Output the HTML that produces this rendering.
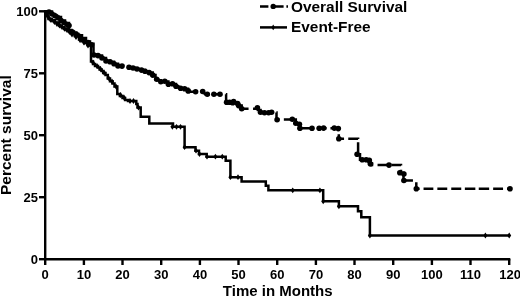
<!DOCTYPE html>
<html><head><meta charset="utf-8"><style>
html,body{margin:0;padding:0;background:#fff;width:520px;height:296px;overflow:hidden}
svg{display:block;filter:grayscale(1)}
text{font-family:"Liberation Sans",sans-serif}
</style></head><body>
<svg width="520" height="296" viewBox="0 0 520 296">
<rect width="520" height="296" fill="#fff"/>
<g stroke="#000" stroke-width="2.4" fill="none" stroke-linecap="butt">
<path d="M45.2,10.1 V259.3 H510.3"/>
<path d="M39,11.3 H45"/>
<path d="M39,73.3 H45"/>
<path d="M39,135.2 H45"/>
<path d="M39,197.2 H45"/>
<path d="M39,259.2 H45"/>
<path d="M45.2,259 V265"/>
<path d="M83.9,259 V265"/>
<path d="M122.5,259 V265"/>
<path d="M161.2,259 V265"/>
<path d="M199.9,259 V265"/>
<path d="M238.5,259 V265"/>
<path d="M277.2,259 V265"/>
<path d="M315.9,259 V265"/>
<path d="M354.5,259 V265"/>
<path d="M393.2,259 V265"/>
<path d="M431.9,259 V265"/>
<path d="M470.5,259 V265"/>
<path d="M509.2,259 V265"/>
</g>
<path d="M45.0,11.3 L46.8,11.3 L46.8,16.0 L48.5,16.0 L48.5,19.0 L51.6,19.0 L51.6,20.3 L55.0,20.3 L55.0,22.5 L59.3,22.5 L59.3,25.5 L61.6,25.5 L61.6,27.0 L64.0,27.0 L64.0,28.5 L66.5,28.5 L66.5,29.9 L68.9,29.9 L68.9,31.3 L71.8,31.3 L71.8,33.7 L74.7,33.7 L74.7,36.1 L79.0,36.1 L79.0,39.5 L81.7,39.5 L81.7,41.2 L84.3,41.2 L84.3,42.9 L87.7,42.9 L87.7,45.0 L91.0,45.0 L91.0,47.0 L91.0,61.5 L93.0,61.5 L93.0,64.0 L95.0,64.0 L95.0,66.0 L98.0,66.0 L98.0,67.5 L99.6,67.5 L99.6,69.5 L101.7,69.5 L101.7,71.0 L103.2,71.0 L103.2,73.0 L105.5,73.0 L105.5,75.0 L107.8,75.0 L107.8,78.5 L110.0,78.5 L110.0,81.2 L112.5,81.2 L112.5,83.5 L114.5,83.5 L114.5,86.5 L117.3,86.5 L117.3,94.0 L119.9,94.0 L119.9,96.0 L122.5,96.0 L122.5,98.0 L125.1,98.0 L125.1,100.0 L128.0,100.0 L128.0,101.0 L136.3,101.0 L136.3,104.0 L137.5,104.0 L137.5,107.5 L140.7,107.5 L140.7,116.8 L149.3,116.8 L149.3,123.5 L173.0,123.5 L173.0,126.8 L184.6,126.8 L184.6,147.2 L195.5,147.2 L195.5,150.7 L199.0,150.7 L199.0,154.1 L206.7,154.1 L206.7,156.7 L225.7,156.7 L225.7,160.8 L230.4,160.8 L230.4,177.2 L241.6,177.2 L241.6,181.5 L265.8,181.5 L265.8,185.8 L268.4,185.8 L268.4,190.3 L323.2,190.3 L323.2,201.3 L338.9,201.3 L338.9,206.3 L358.0,206.3 L358.0,211.3 L361.3,211.3 L361.3,217.3 L369.9,217.3 L369.9,235.5 L510.0,235.5" fill="none" stroke="#000" stroke-width="2.5" stroke-linejoin="miter"/>
<path d="M45.0,11.3 L49.0,11.6 L52.0,11.6 L52.0,14.0 L54.5,14.0 L54.5,15.5 L57.0,15.5 L57.0,17.0 L61.0,17.0 L61.0,20.5 L65.0,20.5 L65.0,23.0 L69.0,23.0 L69.0,25.5 L69.0,30.0 L71.5,30.0 L71.5,31.4 L74.0,31.4 L74.0,32.8 L76.2,32.8 L76.2,34.0 L78.5,34.0 L78.5,35.2 L82.0,35.2 L82.0,38.0 L86.0,38.0 L86.0,41.5 L90.0,41.5 L90.0,43.8 L93.5,43.8 L93.5,46.0 L93.5,54.5 L95.8,54.5 L95.8,55.0 L98.0,55.0 L98.0,55.5 L102.0,55.5 L102.0,58.0 L106.0,58.0 L106.0,61.0 L110.0,61.0 L110.0,61.7 L114.0,61.7 L114.0,63.7 L118.0,63.7 L118.0,66.0 L124.5,66.1 L128.5,66.1 L128.5,67.3 L131.6,67.3 L131.6,67.8 L134.6,67.8 L134.6,68.3 L138.1,68.3 L138.1,69.2 L141.5,69.2 L141.5,70.0 L145.2,70.0 L145.2,71.3 L149.0,71.3 L149.0,72.6 L152.7,72.6 L152.7,75.0 L155.5,75.0 L155.5,79.2 L158.2,79.2 L158.2,80.3 L160.8,80.3 L160.8,81.5 L164.8,81.5 L168.4,81.5 L168.4,84.0 L172.5,84.0 L176.0,84.0 L176.0,86.3 L178.3,86.3 L178.3,87.3 L180.6,87.3 L180.6,88.3 L184.6,88.8 L188.0,88.8 L188.0,91.7 L202.5,91.7 L205.0,94.2 L226.1,94.2 L226.1,102.3 L232.7,102.5 L236.0,102.5 L236.0,103.5 L238.6,103.5 L238.6,105.6 L241.7,105.6 L241.7,108.7 L255.0,108.7 L258.0,108.7 L258.0,110.0 L260.5,110.0 L260.5,112.4 L276.5,112.4 L276.5,119.5 L293.5,119.5 L295.8,119.5 L295.8,123.2 L299.0,123.2 L299.0,124.2 L299.9,124.2 L299.9,128.3 L338.8,128.3 L338.8,138.8 L358.1,138.8 L358.1,154.3 L360.0,154.3 L360.0,159.8 L369.0,159.8 L369.0,163.4 L372.0,163.4 L372.0,165.1 L401.0,165.1 L401.0,172.8 L403.5,172.8 L403.5,180.5 L416.3,180.5 L416.3,188.7 L510.0,188.7" fill="none" stroke="#000" stroke-width="2.5" stroke-dasharray="133.66 5.40 93.43 3.00 9.64 2.60 9.10 4.60 37.00 4.50 23.60 3.40 10.10 4.50 38.20 3.60 9.80 3.80 9.80 4.60 9.70 4.20 10.10 3.30 37.90 4.30 9.60 4.30 10.00 4.20 22.70 5.10 9.80 3.90 9.80 4.00 9.90 4.00 10.00 3.60 10.50 3.40 10.40 4.00 9.90 4.00 12.95 0.01" stroke-linejoin="miter"/>
<g fill="#000">
<circle cx="49.0" cy="12.0" r="2.8"/>
<circle cx="52.0" cy="14.0" r="2.8"/>
<circle cx="55.0" cy="15.8" r="2.8"/>
<circle cx="58.0" cy="17.7" r="2.8"/>
<circle cx="61.0" cy="20.5" r="2.8"/>
<circle cx="64.0" cy="22.5" r="2.8"/>
<circle cx="67.0" cy="24.5" r="2.8"/>
<circle cx="69.0" cy="25.5" r="2.8"/>
<circle cx="72.0" cy="31.8" r="2.8"/>
<circle cx="76.0" cy="34.0" r="2.8"/>
<circle cx="80.0" cy="36.5" r="2.8"/>
<circle cx="84.0" cy="40.0" r="2.8"/>
<circle cx="88.0" cy="42.5" r="2.8"/>
<circle cx="91.5" cy="44.8" r="2.8"/>
<circle cx="94.0" cy="55.0" r="2.8"/>
<circle cx="98.0" cy="55.6" r="2.8"/>
<circle cx="102.0" cy="58.0" r="2.8"/>
<circle cx="106.0" cy="61.0" r="2.8"/>
<circle cx="110.0" cy="61.7" r="2.8"/>
<circle cx="114.0" cy="63.7" r="2.8"/>
<circle cx="118.0" cy="66.0" r="2.8"/>
<circle cx="122.0" cy="66.1" r="2.8"/>
<circle cx="129.0" cy="67.3" r="2.8"/>
<circle cx="133.0" cy="68.0" r="2.8"/>
<circle cx="137.0" cy="69.0" r="2.8"/>
<circle cx="141.5" cy="70.1" r="2.8"/>
<circle cx="145.0" cy="71.3" r="2.8"/>
<circle cx="149.1" cy="72.6" r="2.8"/>
<circle cx="152.7" cy="75.1" r="2.8"/>
<circle cx="156.7" cy="79.2" r="2.8"/>
<circle cx="160.8" cy="81.7" r="2.8"/>
<circle cx="164.8" cy="81.2" r="2.8"/>
<circle cx="168.4" cy="84.3" r="2.8"/>
<circle cx="172.5" cy="83.8" r="2.8"/>
<circle cx="176.0" cy="86.3" r="2.8"/>
<circle cx="180.6" cy="88.3" r="2.8"/>
<circle cx="184.6" cy="88.8" r="2.8"/>
<circle cx="188.2" cy="90.9" r="2.8"/>
<circle cx="195.6" cy="91.7" r="2.8"/>
<circle cx="202.7" cy="91.5" r="2.8"/>
<circle cx="207.3" cy="94.2" r="2.8"/>
<circle cx="213.9" cy="94.2" r="2.8"/>
<circle cx="220.0" cy="94.2" r="2.8"/>
<circle cx="226.6" cy="102.3" r="2.8"/>
<circle cx="229.6" cy="102.3" r="2.8"/>
<circle cx="232.7" cy="102.8" r="2.8"/>
<circle cx="233.6" cy="101.6" r="2.8"/>
<circle cx="237.6" cy="103.6" r="2.8"/>
<circle cx="238.6" cy="105.6" r="2.8"/>
<circle cx="241.7" cy="108.7" r="2.8"/>
<circle cx="257.4" cy="107.7" r="2.8"/>
<circle cx="260.5" cy="112.2" r="2.8"/>
<circle cx="264.5" cy="112.7" r="2.8"/>
<circle cx="268.6" cy="112.7" r="2.8"/>
<circle cx="271.6" cy="112.2" r="2.8"/>
<circle cx="277.1" cy="119.7" r="2.8"/>
<circle cx="292.3" cy="119.2" r="2.8"/>
<circle cx="295.8" cy="123.2" r="2.8"/>
<circle cx="299.4" cy="124.2" r="2.8"/>
<circle cx="299.9" cy="128.3" r="2.8"/>
<circle cx="312.0" cy="128.3" r="2.8"/>
<circle cx="319.2" cy="128.3" r="2.8"/>
<circle cx="323.6" cy="128.1" r="2.8"/>
<circle cx="334.3" cy="128.1" r="2.8"/>
<circle cx="338.3" cy="128.6" r="2.8"/>
<circle cx="338.8" cy="138.8" r="2.8"/>
<circle cx="357.1" cy="154.3" r="2.8"/>
<circle cx="362.2" cy="159.8" r="2.8"/>
<circle cx="366.2" cy="159.8" r="2.8"/>
<circle cx="369.3" cy="160.4" r="2.8"/>
<circle cx="370.5" cy="164.0" r="2.8"/>
<circle cx="389.0" cy="165.1" r="2.8"/>
<circle cx="399.8" cy="172.8" r="2.8"/>
<circle cx="403.9" cy="174.0" r="2.8"/>
<circle cx="403.9" cy="180.5" r="2.8"/>
<circle cx="416.3" cy="188.7" r="2.8"/>
<circle cx="510.0" cy="188.8" r="2.8"/>
<path d="M47.0,11.6 L49.0,14.5 L47.0,17.4 L45.0,14.5Z"/>
<path d="M48.5,14.6 L50.5,17.5 L48.5,20.4 L46.5,17.5Z"/>
<path d="M50.5,16.9 L52.5,19.8 L50.5,22.7 L48.5,19.8Z"/>
<path d="M52.0,17.1 L54.0,20.0 L52.0,22.9 L50.0,20.0Z"/>
<path d="M54.5,19.1 L56.5,22.0 L54.5,24.9 L52.5,22.0Z"/>
<path d="M57.0,21.1 L59.0,24.0 L57.0,26.9 L55.0,24.0Z"/>
<path d="M59.5,22.6 L61.5,25.5 L59.5,28.4 L57.5,25.5Z"/>
<path d="M62.0,24.1 L64.0,27.0 L62.0,29.9 L60.0,27.0Z"/>
<path d="M64.5,25.9 L66.5,28.8 L64.5,31.7 L62.5,28.8Z"/>
<path d="M67.0,27.1 L69.0,30.0 L67.0,32.9 L65.0,30.0Z"/>
<path d="M69.5,29.1 L71.5,32.0 L69.5,34.9 L67.5,32.0Z"/>
<path d="M72.0,31.6 L74.0,34.5 L72.0,37.4 L70.0,34.5Z"/>
<path d="M76.0,34.1 L78.0,37.0 L76.0,39.9 L74.0,37.0Z"/>
<path d="M80.0,37.1 L82.0,40.0 L80.0,42.9 L78.0,40.0Z"/>
<path d="M84.0,39.8 L86.0,42.7 L84.0,45.6 L82.0,42.7Z"/>
<path d="M88.0,42.6 L90.0,45.5 L88.0,48.4 L86.0,45.5Z"/>
<path d="M93.0,59.6 L95.0,62.5 L93.0,65.4 L91.0,62.5Z"/>
<path d="M97.0,63.1 L99.0,66.0 L97.0,68.9 L95.0,66.0Z"/>
<path d="M100.5,66.1 L102.5,69.0 L100.5,71.9 L98.5,69.0Z"/>
<path d="M104.0,69.6 L106.0,72.5 L104.0,75.4 L102.0,72.5Z"/>
<path d="M108.5,75.1 L110.5,78.0 L108.5,80.9 L106.5,78.0Z"/>
<path d="M112.0,78.6 L114.0,81.5 L112.0,84.4 L110.0,81.5Z"/>
<path d="M116.0,83.6 L118.0,86.5 L116.0,89.4 L114.0,86.5Z"/>
<path d="M120.5,92.1 L122.5,95.0 L120.5,97.9 L118.5,95.0Z"/>
<path d="M124.0,94.6 L126.0,97.5 L124.0,100.4 L122.0,97.5Z"/>
<path d="M130.0,98.1 L132.0,101.0 L130.0,103.9 L128.0,101.0Z"/>
<path d="M133.5,98.1 L135.5,101.0 L133.5,103.9 L131.5,101.0Z"/>
<path d="M138.5,104.6 L140.5,107.5 L138.5,110.4 L136.5,107.5Z"/>
<path d="M172.4,123.9 L174.4,126.8 L172.4,129.7 L170.4,126.8Z"/>
<path d="M176.5,123.9 L178.5,126.8 L176.5,129.7 L174.5,126.8Z"/>
<path d="M180.5,123.9 L182.5,126.8 L180.5,129.7 L178.5,126.8Z"/>
<path d="M184.6,144.3 L186.6,147.2 L184.6,150.1 L182.6,147.2Z"/>
<path d="M215.4,153.8 L217.4,156.7 L215.4,159.6 L213.4,156.7Z"/>
<path d="M222.3,153.8 L224.3,156.7 L222.3,159.6 L220.3,156.7Z"/>
<path d="M230.4,174.3 L232.4,177.2 L230.4,180.1 L228.4,177.2Z"/>
<path d="M238.0,174.3 L240.0,177.2 L238.0,180.1 L236.0,177.2Z"/>
<path d="M292.7,187.4 L294.7,190.3 L292.7,193.2 L290.7,190.3Z"/>
<path d="M319.9,187.4 L321.9,190.3 L319.9,193.2 L317.9,190.3Z"/>
<path d="M323.2,198.4 L325.2,201.3 L323.2,204.2 L321.2,201.3Z"/>
<path d="M196.0,147.8 L198.0,150.7 L196.0,153.6 L194.0,150.7Z"/>
<path d="M199.5,151.2 L201.5,154.1 L199.5,157.0 L197.5,154.1Z"/>
<path d="M207.0,153.8 L209.0,156.7 L207.0,159.6 L205.0,156.7Z"/>
<path d="M338.9,203.4 L340.9,206.3 L338.9,209.2 L336.9,206.3Z"/>
<path d="M369.9,232.6 L371.9,235.5 L369.9,238.4 L367.9,235.5Z"/>
<path d="M485.4,232.6 L487.4,235.5 L485.4,238.4 L483.4,235.5Z"/>
<path d="M509.2,232.6 L511.2,235.5 L509.2,238.4 L507.2,235.5Z"/>
</g>
<g stroke="#000" stroke-width="2.5">
<path d="M260,6.4 H268.4 M271.4,6.4 H283.6 M286.4,6.4 H288" />
<path d="M260,27.4 H287" />
</g>
<circle cx="273.2" cy="6.4" r="2.7"/>
<path d="M273.2,24.6 L275,27.4 L273.2,30.2 L271.4,27.4Z"/>
<g font-family="Liberation Sans" font-weight="bold" fill="#000">
<text x="291" y="11.8" font-size="15.4">Overall Survival</text>
<text x="291" y="32.3" font-size="15.4">Event-Free</text>
<text x="38" y="16.2" font-size="13" text-anchor="end">100</text>
<text x="38" y="78.2" font-size="13" text-anchor="end">75</text>
<text x="38" y="140.2" font-size="13" text-anchor="end">50</text>
<text x="38" y="202.1" font-size="13" text-anchor="end">25</text>
<text x="38" y="264.1" font-size="13" text-anchor="end">0</text>
<text x="45.2" y="279" font-size="13" text-anchor="middle">0</text>
<text x="83.9" y="279" font-size="13" text-anchor="middle">10</text>
<text x="122.5" y="279" font-size="13" text-anchor="middle">20</text>
<text x="161.2" y="279" font-size="13" text-anchor="middle">30</text>
<text x="199.9" y="279" font-size="13" text-anchor="middle">40</text>
<text x="238.5" y="279" font-size="13" text-anchor="middle">50</text>
<text x="277.2" y="279" font-size="13" text-anchor="middle">60</text>
<text x="315.9" y="279" font-size="13" text-anchor="middle">70</text>
<text x="354.5" y="279" font-size="13" text-anchor="middle">80</text>
<text x="393.2" y="279" font-size="13" text-anchor="middle">90</text>
<text x="431.9" y="279" font-size="13" text-anchor="middle">100</text>
<text x="470.5" y="279" font-size="13" text-anchor="middle">110</text>
<text x="510.2" y="279" font-size="13" text-anchor="middle">120</text>
<text x="277.7" y="295.8" font-size="15" text-anchor="middle">Time in Months</text>
<text transform="translate(11,135.2) rotate(-90)" font-size="15.5" text-anchor="middle">Percent survival</text>
</g>
</svg>
</body></html>
